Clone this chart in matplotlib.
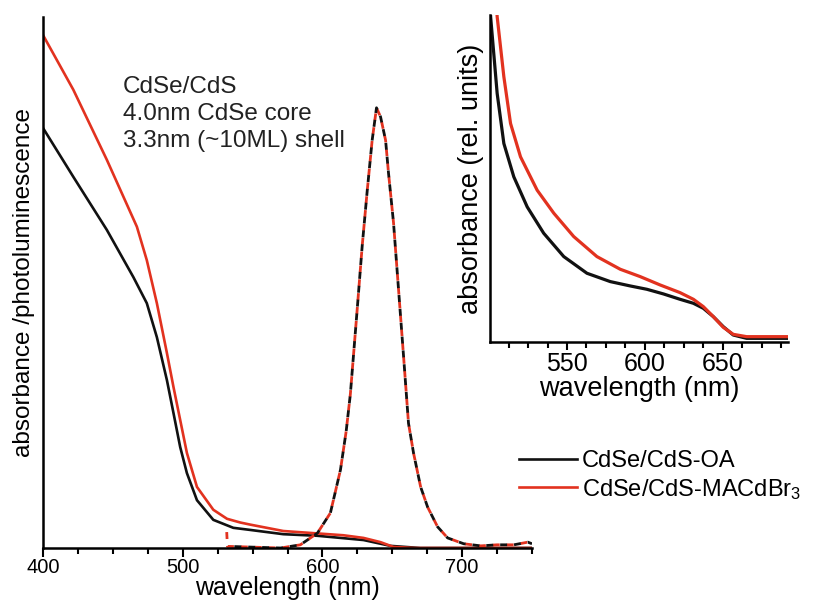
import numpy as np
import matplotlib
matplotlib.use('Agg')
import matplotlib.pyplot as plt
from matplotlib.ticker import MultipleLocator

plt.rcParams['font.family'] = ['Liberation Sans', 'DejaVu Sans']
plt.rcParams['mathtext.fontset'] = 'custom'
plt.rcParams['mathtext.rm'] = 'Liberation Sans'
plt.rcParams['mathtext.it'] = 'Liberation Sans'

RED = '#e2321f'
BLACK = '#111111'

# main panel: absorbance
abs_oa_wl = [400, 421.7, 445.7, 464.7, 474.3, 481.5, 488.7, 493.4, 498.2, 503, 510.2,
             521.9, 536.2, 548.4, 572, 596.4, 629.4, 648.7, 670, 750]
abs_oa = [79.1, 69.9, 59.9, 51.0, 46.1, 39.7, 31.6, 25.4, 19.0, 14.1, 9.0,
          5.3, 3.8, 3.4, 2.6, 2.3, 1.5, 0.4, 0.0, 0.0]

abs_ma_wl = [400, 421.7, 445.7, 467.2, 474.3, 481.5, 488.7, 493.4, 498.2, 503, 510.2,
             521.9, 531.7, 541.2, 548.4, 572, 593.5, 615, 629.4, 641.6, 650.9, 665.2, 750]
abs_ma = [96.6, 86.3, 73.1, 60.5, 54.2, 46.1, 36.7, 30.3, 24.1, 17.9, 11.5,
          7.2, 5.5, 4.8, 4.4, 3.2, 2.8, 2.4, 1.9, 1.1, 0.2, 0.0, 0.0]

# photoluminescence (dashed)
pl_wl = [532.0, 533.0, 570, 584.2, 596.4, 605.7, 612.9, 617, 620, 624.9, 628.5, 632.1,
         635.6, 638.7, 641.6, 645.2, 647.3, 650.9, 654.5, 658.1, 661.6, 665.2, 670.3,
         675.3, 682.4, 689.6, 701.1, 713.3, 725, 737, 747, 750]
pl_oa = [0.3, 0.3, 0.0, 0.6, 2.8, 6.6, 14.7, 22, 29, 45, 57, 67.4,
         76.8, 82.9, 81.2, 76.8, 70.6, 61.2, 48.6, 36.0, 23.5, 17.9, 11.5,
         7.7, 4.0, 1.9, 0.8, 0.4, 0.6, 0.6, 1.1, 0.8]
pl_ma_wl = [531.5, 532.0] + pl_wl[1:]
pl_ma = [3.0, 0.3] + pl_oa[1:]

# inset: absorbance zoom
in_oa_wl = [499.5, 500.9, 505.1, 509.4, 515.8, 524.4, 535, 547.9, 562.8, 577.8, 590.6,
            601.3, 612, 622.6, 631.2, 637.6, 644, 650.4, 656.8, 665.4, 692]
in_oa = [110, 97.5, 74.5, 59.5, 49.5, 40.5, 32.6, 25.6, 20.6, 18.1, 16.8,
         15.8, 14.4, 12.8, 11.6, 10.1, 7.6, 4.6, 2.1, 1.1, 1.1]
in_ma_wl = [503.5, 505.1, 509.4, 513.7, 520.1, 530.8, 541.5, 554.3, 569.2, 584.2, 597,
            609.8, 622.6, 631.2, 637.6, 644, 650.4, 656.8, 665.4, 692]
in_ma = [110, 97.5, 79.5, 65.5, 55.5, 45.5, 38.6, 31.6, 25.6, 21.8, 19.6,
         17.1, 14.8, 12.8, 10.6, 7.6, 4.4, 2.3, 1.6, 1.6]

fig = plt.figure(figsize=(8.14, 6.03), dpi=100)

# ---- main axes ----
ax = fig.add_axes([43 / 814, 55 / 603, 489 / 814, 531 / 603])
ax.plot(abs_oa_wl, abs_oa, color=BLACK, lw=1.9, label='CdSe/CdS-OA', solid_joinstyle='round')
ax.plot(abs_ma_wl, abs_ma, color=RED, lw=1.9, label='CdSe/CdS-MACdBr$_3$', solid_joinstyle='round')
# PL curves nearly coincide: alternate red/black dashes
ax.plot(pl_ma_wl, pl_ma, color=RED, lw=2.0, linestyle=(0, (2.5, 2.5)))
ax.plot(pl_wl, pl_oa, color=BLACK, lw=2.0, linestyle=(2.5, (2.5, 2.5)))

ax.set_xlim(400, 750)
ax.set_ylim(0, 100)
ax.xaxis.set_major_locator(MultipleLocator(100))
ax.xaxis.set_minor_locator(MultipleLocator(25))
ax.set_yticks([])
for s in ['top', 'right']:
    ax.spines[s].set_visible(False)
for s in ['left', 'bottom']:
    ax.spines[s].set_linewidth(1.8)
ax.tick_params(axis='x', which='major', direction='out', length=6.5, width=1.5,
               labelsize=14.5, pad=1)
ax.tick_params(axis='x', which='minor', direction='out', length=4.5, width=1.5)
ax.set_xlabel('wavelength (nm)', fontsize=18, labelpad=-1)
ax.set_ylabel('absorbance /photoluminescence', fontsize=17.5, labelpad=6)
ax.text(0.164, 0.888, 'CdSe/CdS\n4.0nm CdSe core\n3.3nm (~10ML) shell',
        transform=ax.transAxes, fontsize=17.5, va='top', ha='left',
        linespacing=1.27, color='#222222')

fig.legend(loc='upper left', bbox_to_anchor=(519 / 814, 1 - 450 / 603),
           frameon=False, fontsize=17, handlelength=2.45, handletextpad=0.22,
           labelspacing=0.2, borderpad=0, borderaxespad=0)

# ---- inset ----
ins = fig.add_axes([490 / 814, 261 / 603, 298 / 814, 327 / 603])
ins.patch.set_alpha(0)
ins.plot(in_oa_wl, in_oa, color=BLACK, lw=2.3, solid_joinstyle='round')
ins.plot(in_ma_wl, in_ma, color=RED, lw=2.3, solid_joinstyle='round')
ins.set_xlim(500.5, 692)
ins.set_ylim(0, 98)
ins.xaxis.set_major_locator(MultipleLocator(50))
ins.xaxis.set_minor_locator(MultipleLocator(12.5))
ins.set_yticks([])
for s in ['top', 'right']:
    ins.spines[s].set_visible(False)
for s in ['left', 'bottom']:
    ins.spines[s].set_linewidth(1.8)
ins.tick_params(axis='x', which='major', direction='out', length=6, width=1.5,
                labelsize=18, pad=1.5)
ins.tick_params(axis='x', which='minor', direction='out', length=4, width=1.5)
ins.set_xlabel('wavelength (nm)', fontsize=19.5, labelpad=0)
ins.set_ylabel('absorbance (rel. units)', fontsize=19.5, labelpad=4)

fig.savefig('out.png', dpi=100)
